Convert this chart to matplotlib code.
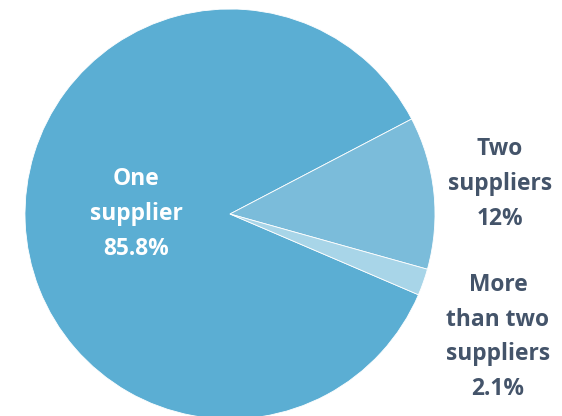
import matplotlib
matplotlib.use("Agg")
import matplotlib.pyplot as plt

categories = ["One\nsupplier", "Two\nsuppliers", "More\nthan two\nsuppliers"]
values = [85.8, 12.0, 2.1]
value_labels = ["85.8%", "12%", "2.1%"]
colors = ["#5BAED3", "#7BBCDA", "#A8D5E8"]

W, H = 562, 416
fig = plt.figure(figsize=(W / 100, H / 100), dpi=100)
cx, cy, r = 230, 214, 205
ax = fig.add_axes([(cx - r) / W, (H - cy - r) / H, 2 * r / W, 2 * r / H])
ax.pie(values, colors=colors, startangle=-23.2, counterclock=False,
       radius=1, wedgeprops=dict(edgecolor="white", linewidth=0.6))
ax.set_xlim(-1, 1)
ax.set_ylim(-1, 1)
ax.set_aspect("equal")
ax.axis("off")

font = ["Open Sans", "DejaVu Sans"]
fs = 16.4
ls = 1.61
txt_dark = "#44546A"

def px(x, y):
    return x / W, 1 - y / H

x, y = px(136, 214)
fig.text(x, y, categories[0] + "\n" + value_labels[0], ha="center", va="center",
         color="white", fontsize=fs, fontweight="bold", family=font, linespacing=ls)
x, y = px(500, 184)
fig.text(x, y, categories[1] + "\n" + value_labels[1], ha="center", va="center",
         color=txt_dark, fontsize=fs, fontweight="bold", family=font, linespacing=ls)
x, y = px(498, 337)
fig.text(x, y, categories[2] + "\n" + value_labels[2], ha="center", va="center",
         color=txt_dark, fontsize=fs, fontweight="bold", family=font, linespacing=ls)

fig.savefig("out.png", dpi=100)
